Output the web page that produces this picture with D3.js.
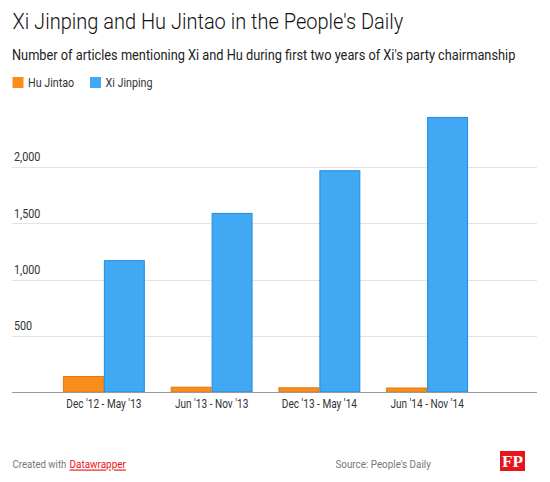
<!DOCTYPE html>
<html>
<head>
<meta charset="utf-8">
<script src="https://cdn.jsdelivr.net/npm/d3@7"></script>
<style>
  body { margin: 0; background: #fff; }
  svg text { font-family: Roboto, "Noto Sans", sans-serif; }
</style>
</head>
<body>
<svg id="chart" width="550" height="482"></svg>
<script>
/// Data
var periods = ["Dec '12 - May '13", "Jun '13 - Nov '13", "Dec '13 - May '14", "Jun '14 - Nov '14"];
var seriesNames = ["Hu Jintao", "Xi Jinping"];
var huValues = [142, 47, 42, 40];
var xiValues = [1172, 1592, 1971, 2445];
var yTicks = [500, 1000, 1500, 2000];

var colors = { "Hu Jintao": "#f98e1d", "Xi Jinping": "#41a8f4" };
var strokes = { "Hu Jintao": "#e57a0e", "Xi Jinping": "#1f8be3" };

var rows = periods.map(function(p, i) {
  return { period: p, "Hu Jintao": huValues[i], "Xi Jinping": xiValues[i] };
});

var svg = d3.select("#chart");

// the original uses a condensed face: squeeze horizontally around the text's own x
function squeeze(node, k) {
  var x = +node.getAttribute("x") || 0;
  d3.select(node).attr("transform", "translate(" + (x * (1 - k)) + ",0) scale(" + k + ",1)");
}
function fit(sel, w) {
  sel.each(function() { squeeze(this, w / this.getComputedTextLength()); });
}
function condense(sel, k) {
  sel.each(function() { squeeze(this, k); });
}

/// Header
svg.append("text").attr("x", 12.5).attr("y", 29.5)
    .style("font-size", "22.5px").style("font-weight", 300).style("fill", "#111")
    .text("Xi Jinping and Hu Jintao in the People's Daily")
    .call(fit, 391);

svg.append("text").attr("x", 12).attr("y", 60.5)
    .style("font-size", "14px").style("fill", "#222")
    .text("Number of articles mentioning Xi and Hu during first two years of Xi's party chairmanship")
    .call(fit, 504);

/// Legend
var legendX = [12.5, 90];
var legend = svg.selectAll("g.legend")
    .data(seriesNames)
  .enter().append("g")
    .attr("class", "legend")
    .attr("transform", function(d, i) { return "translate(" + legendX[i] + ",77)"; });
legend.append("rect")
    .attr("width", 11).attr("height", 11)
    .style("fill", function(d) { return colors[d]; });
legend.append("text")
    .attr("x", 15.5).attr("y", 9.8)
    .style("font-size", "12.5px").style("fill", "#333")
    .text(function(d) { return d; })
    .call(condense, 0.86);

/// Scales
var x0 = d3.scaleBand().domain(periods).range([50, 481]).paddingInner(0.24).paddingOuter(0.12);
var x1 = d3.scaleBand().domain(seriesNames).range([0, x0.bandwidth()]);
var y = d3.scaleLinear().domain([0, 2500]).range([392, 110.75]);

/// Grid + y labels
var grid = svg.append("g");
grid.selectAll("line")
    .data(yTicks)
  .enter().append("line")
    .attr("x1", 12).attr("x2", 537)
    .attr("y1", function(d) { return Math.round(y(d)) + 0.5; })
    .attr("y2", function(d) { return Math.round(y(d)) + 0.5; })
    .style("stroke", "#e3e3e3").style("stroke-width", 1);
grid.selectAll("text")
    .data(yTicks)
  .enter().append("text")
    .attr("x", 14)
    .attr("y", function(d) { return y(d) - 5.5; })
    .style("font-size", "12px").style("fill", "#333")
    .text(d3.format(","))
    .call(condense, 0.9);

/// Bars
var groups = svg.selectAll("g.period")
    .data(rows)
  .enter().append("g")
    .attr("class", "period")
    .attr("transform", function(d) { return "translate(" + x0(d.period) + ",0)"; });

groups.selectAll("rect")
    .data(function(d) { return seriesNames.map(function(s) { return { key: s, value: d[s] }; }); })
  .enter().append("rect")
    .attr("x", function(d) { return x1(d.key) + 0.5; })
    .attr("width", x1.bandwidth() - 1)
    .attr("y", function(d) { return y(d.value) + 0.5; })
    .attr("height", function(d) { return y(0) - y(d.value) - 0.5; })
    .style("fill", function(d) { return colors[d.key]; })
    .style("stroke", function(d) { return strokes[d.key]; })
    .style("stroke-width", 1);

/// Baseline + x axis
svg.append("line")
    .attr("x1", 12).attr("x2", 537)
    .attr("y1", y(0) + 0.5).attr("y2", y(0) + 0.5)
    .style("stroke", "#9a9a9a").style("stroke-width", 1.2);

var xAxis = d3.axisBottom(x0).tickSize(0).tickPadding(0);
svg.append("g")
    .attr("transform", "translate(0," + y(0) + ")")
    .call(xAxis)
    .call(function(g) { g.select(".domain").remove(); })
    .selectAll("text")
    .attr("dy", null).attr("y", 16.3)
    .style("font-family", "Roboto, sans-serif")
    .style("font-size", "12px").style("fill", "#333")
    .call(condense, 0.84);

/// Footer
svg.append("text").attr("x", 12.5).attr("y", 468.5)
    .style("font-size", "11px").style("fill", "#777")
    .text("Created with")
    .call(fit, 54);
svg.append("text").attr("x", 69.5).attr("y", 468.5)
    .style("font-size", "11px").style("fill", "#ee1111")
    .style("text-decoration", "underline")
    .text("Datawrapper")
    .call(fit, 56.5);

svg.append("text").attr("x", 335.5).attr("y", 468.5)
    .style("font-size", "11px").style("fill", "#777")
    .text("Source: People's Daily")
    .call(fit, 95.5);

var logo = svg.append("g").attr("transform", "translate(500,451)");
logo.append("rect").attr("width", 25).attr("height", 20).style("fill", "#e8141b");
logo.append("text").attr("x", 12.5).attr("y", 16.5)
    .attr("text-anchor", "middle")
    .style("font-family", "'Liberation Serif', 'DejaVu Serif', serif")
    .style("font-weight", "bold").style("font-size", "17px").style("fill", "#fff")
    .text("FP")
    .call(fit, 21);
</script>
</body>
</html>
